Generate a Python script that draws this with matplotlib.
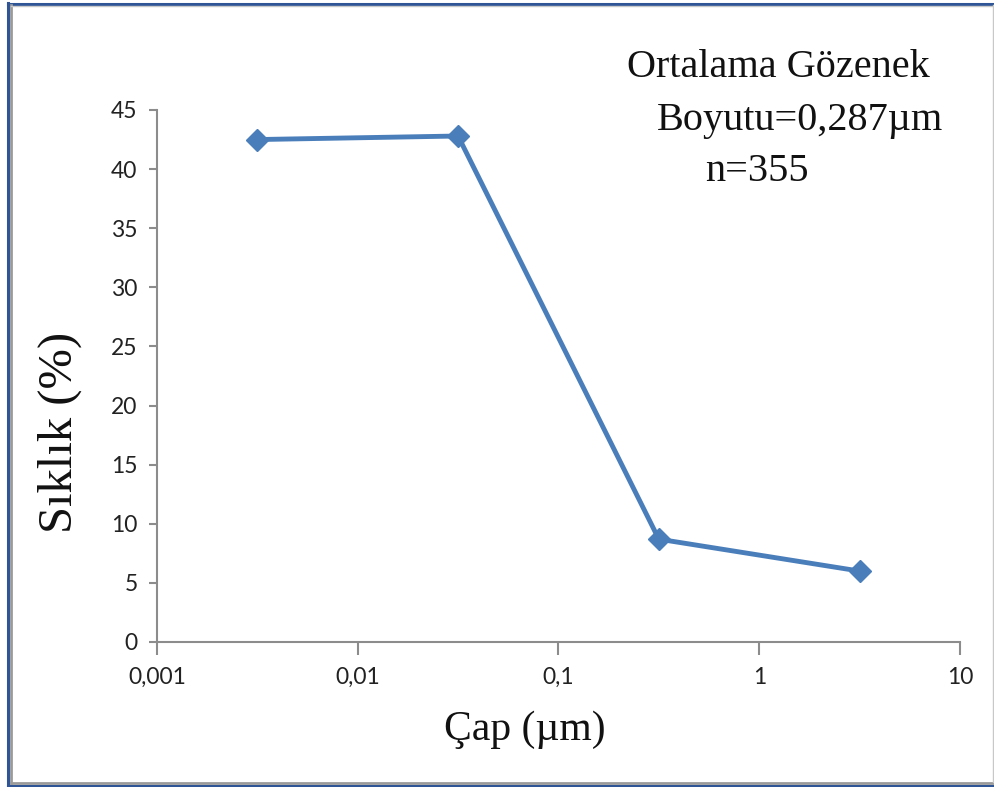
import matplotlib.pyplot as plt
from matplotlib.lines import Line2D
from matplotlib.ticker import FixedLocator, NullLocator

# pore diameter classes (um) and their frequency (%)
diameters = [0.00316, 0.0316, 0.316, 3.16]
frequency = [42.5, 42.8, 8.7, 6.0]

x_ticks = [0.001, 0.01, 0.1, 1, 10]
x_tick_labels = ["0,001", "0,01", "0,1", "1", "10"]
y_ticks = [0, 5, 10, 15, 20, 25, 30, 35, 40, 45]

note_lines = ["Ortalama Gözenek", "Boyutu=0,287µm", "n=355"]

line_color = "#4A7EBB"
axis_color = "#8C8C8C"
serif = "Liberation Serif"
sans = "Lato"

W, H = 995, 787
fig = plt.figure(figsize=(W / 100, H / 100), dpi=100)
fig.patch.set_facecolor("white")


def px_line(xs, ys, **kw):
    # line given in pixel coordinates (origin top-left)
    fig.lines.append(Line2D([x / W for x in xs], [1 - y / H for y in ys],
                            transform=fig.transFigure, **kw))


# outer frame: blue border on left/top/bottom with grey shadow inside
px_line([8, 8], [3, 786], color="#2F5597", linewidth=2.2)
px_line([8, 995], [3.5, 3.5], color="#2F5597", linewidth=2.2)
px_line([8, 995], [785.5, 785.5], color="#2F5597", linewidth=2.2)
px_line([11.5, 11.5], [5, 783], color="#9A9A9A", linewidth=2.0)
px_line([11, 993], [782.5, 782.5], color="#9A9A9A", linewidth=2.0)
px_line([11, 993], [6, 6], color="#C8C8C8", linewidth=1.0)
px_line([993, 993], [5, 782], color="#C8C8C8", linewidth=1.0)

ax = fig.add_axes([157 / W, 1 - 642 / H, 803 / W, 532 / H])
ax.plot(diameters, frequency, color=line_color, linewidth=3.5,
        marker="D", markersize=11.5, markerfacecolor=line_color,
        markeredgecolor=line_color)

ax.set_xscale("log")
ax.set_xlim(0.001, 10)
ax.set_ylim(0, 45)
ax.xaxis.set_major_locator(FixedLocator(x_ticks))
ax.xaxis.set_minor_locator(NullLocator())
ax.set_xticklabels(x_tick_labels)
ax.set_yticks(y_ticks)

for side in ("top", "right"):
    ax.spines[side].set_visible(False)
for side in ("left", "bottom"):
    ax.spines[side].set_color(axis_color)
    ax.spines[side].set_linewidth(1.5)

ax.tick_params(axis="x", direction="out", length=9, width=1.5, color=axis_color,
               pad=9, labelsize=16.5, labelcolor="#222222")
ax.tick_params(axis="y", direction="out", length=6, width=1.5, color=axis_color,
               pad=8, labelsize=16.5, labelcolor="#222222")
for lbl in ax.get_xticklabels() + ax.get_yticklabels():
    lbl.set_fontfamily(sans)

# axis titles
fig.text(525 / W, 1 - 730 / H, "Çap (µm)", fontfamily=serif, fontsize=30,
         ha="center", va="center", color="#111111")
fig.text(60 / W, 1 - 432 / H, "Sıklık (%)", fontfamily=serif, fontsize=35,
         rotation=90, ha="center", va="center", color="#111111")

# mean pore size note in the upper right
note_x = [627, 657, 705]
note_y = [77, 130, 181]
for txt, nx, ny in zip(note_lines, note_x, note_y):
    fig.text(nx / W, 1 - ny / H, txt, fontfamily=serif, fontsize=29,
             color="#111111", ha="left", va="baseline")

fig.savefig("out.png", dpi=100)
